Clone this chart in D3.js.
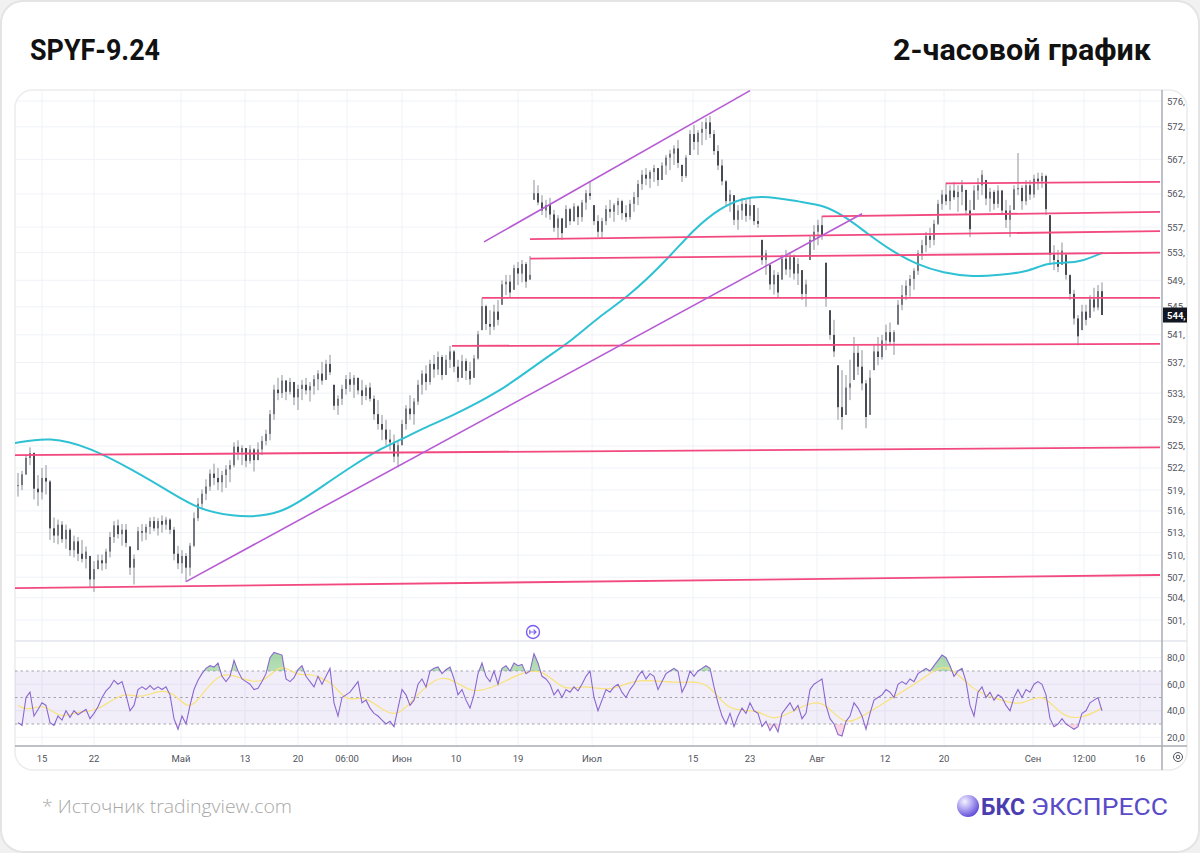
<!DOCTYPE html>
<html>
<head>
<meta charset="utf-8">
<script src="https://cdn.jsdelivr.net/npm/d3@7"></script>
<style>
  html, body { margin: 0; padding: 0; background: #f1f1f1; }
  svg { display: block; }
</style>
</head>
<body>
<svg id="chart" width="1200" height="853"></svg>
<script>
// 2h bars (bar index 0..271)
const highs = [
  521.7, 522, 524.2, 525.3, 524.6, 521.4, 522.4, 522.8, 520.7, 515.5,
  515.2, 515, 514.5, 514, 513, 512.8, 512.4, 511.5, 510.2, 509.5,
  510.4, 510.4, 511.2, 513.5, 515, 515.2, 514.6, 514.6, 511.5, 510.4,
  514.2, 514.6, 514.6, 515.5, 515.6, 515.4, 515.8, 515.6, 515.4, 514.2,
  511.6, 511, 510.6, 512, 516.2, 518.2, 519.4, 520.8, 522.2, 523,
  522.4, 522, 522.8, 523.5, 526, 526.3, 525.6, 525.2, 525.6, 525.2,
  526, 526.9, 527.8, 530.6, 534.2, 535.2, 535.6, 534.9, 535.2, 534.6,
  534.2, 534.9, 535.2, 534.6, 535.6, 536.3, 537.5, 537.8, 538.5, 534.2,
  532.7, 534.2, 535.6, 536, 535.6, 535.2, 534.9, 534.2, 534.5, 532.7,
  532, 529.9, 529.2, 527.8, 527.1, 526.3, 529.2, 531.3, 532.7, 532.3,
  534.9, 536.3, 537, 537.8, 538.5, 539, 538.5, 538.5, 539.8, 539.2,
  537.8, 538.5, 538, 537.5, 538.5, 542, 546.8, 545.8, 545, 545.8,
  546.5, 549.4, 550.2, 550.2, 551.7, 552.1, 552.4, 552.1, 553, 564.4,
  563.6, 562.1, 561.4, 561.7, 559.9, 559.1, 558.7, 560.6, 560.2, 560.9,
  560.6, 561.4, 562.9, 564.1, 560.6, 559.1, 558.7, 560.6, 561.4, 560.9,
  561.7, 561.4, 560.6, 561.4, 562.6, 564.4, 565.9, 566.2, 565.9, 566.7,
  566.2, 567.1, 568.2, 569, 569.7, 570.5, 566.7, 568.2, 572, 572.8,
  572, 573.3, 573.9, 574.2, 572, 569.7, 567.5, 564.4, 562.9, 562.1,
  560.6, 561.7, 561.4, 561.7, 560.6, 560.2, 555.4, 553.9, 551.7, 550.9,
  550.6, 553.2, 553.9, 553.6, 553.2, 552.7, 550.9, 549.5, 556.1, 557.6,
  558.4, 559, 552, 545, 543.6, 537, 536.3, 535.6, 537.8, 541.1,
  539.9, 539.2, 534.9, 536.3, 539.9, 541.1, 541.4, 542.9, 543.2, 542.1,
  546.5, 548.7, 549.4, 550.2, 551.2, 553.9, 555.4, 556.6, 557.2, 558.4,
  561.4, 562.9, 564, 563.6, 564.1, 563.6, 564.4, 562.9, 561.4, 563.6,
  564.7, 565.9, 564.4, 563.2, 562.9, 563.6, 562.9, 561.4, 560.6, 563.6,
  568.5, 563.6, 564.4, 564.4, 565.2, 565.5, 565.5, 565.2, 559.1, 554.6,
  553.9, 555, 553.2, 550.2, 548, 544.3, 545.8, 545.8, 547.2, 548.3,
  548.7, 549.1
];
const lows = [
  518.4, 519.3, 521.4, 522.8, 518, 517.1, 518, 518.7, 512.4, 512,
  511.8, 512, 511.2, 510.2, 510, 509.5, 509.3, 508.5, 506, 505.3,
  508.4, 508.2, 508.4, 510, 512, 512.6, 511.6, 511.4, 507.6, 506.3,
  511, 512.2, 512.4, 513.2, 513.6, 513, 513.4, 513.8, 513.2, 509.6,
  508.4, 507.8, 506.7, 507.5, 511.4, 515, 516.6, 517.9, 519.2, 520,
  519.3, 519, 519.6, 520.4, 522.5, 523.5, 522.8, 522.5, 523, 521.9,
  523.5, 524.2, 525.6, 526.3, 529.2, 532, 532.3, 532, 532.8, 531.3,
  530.6, 532, 532.8, 531.8, 532.8, 533.4, 534.2, 534.9, 535.6, 530.6,
  529.9, 531.3, 532.8, 533.2, 532.3, 532.8, 531.3, 532, 531.8, 529.2,
  527.8, 526.3, 525.6, 524.9, 523.2, 522.5, 525.6, 527.8, 529.2, 528.5,
  531.3, 532.8, 533.4, 534.2, 535.2, 535.6, 534.9, 535.6, 536.6, 536,
  534.6, 535.2, 534.9, 534.2, 535.2, 537.8, 542.1, 542.1, 541.4, 542.1,
  542.8, 545.8, 547.2, 546.8, 548, 548.7, 549.1, 548.3, 549.5, 561.4,
  560.6, 559.1, 558.7, 558.4, 556.6, 555.7, 555.4, 557.2, 557.6, 558.1,
  557.6, 558.1, 559.9, 561.4, 557.6, 555.8, 555.7, 557.6, 558.7, 558.1,
  559.1, 558.4, 558.1, 558.4, 559.6, 560.6, 562.9, 563.6, 563.2, 564.1,
  563.5, 564.4, 565.2, 565.9, 566.7, 566.2, 564.1, 564.7, 568.2, 569,
  568.2, 569.7, 570.5, 570.8, 568.2, 565.9, 563.6, 560.6, 559.6, 557.6,
  556.9, 558.4, 558.1, 558.4, 557.6, 557.2, 551.7, 550.2, 548, 547.3,
  546.8, 549.5, 550.2, 549.8, 549.5, 548.7, 546.5, 545.5, 552.4, 553.9,
  554.6, 555.4, 545.5, 540.7, 538.2, 529.2, 527.8, 529.9, 532, 534.9,
  535.6, 533.4, 528, 529.9, 536.3, 537, 537.8, 539.2, 539.9, 538.5,
  542.9, 545, 546.5, 547, 548, 550.2, 552.4, 553.6, 554.2, 554.6,
  557.6, 559.9, 560.6, 559.9, 561.4, 559.6, 560.6, 559.1, 555.8, 559.9,
  561.4, 562.1, 560.6, 559.6, 559.9, 560.2, 559.1, 557.2, 555.8, 559.9,
  562.1, 559.9, 560.6, 561.4, 561.7, 562.9, 563.2, 559.1, 551.7, 550.9,
  550.6, 551.7, 549.5, 546.5, 542.9, 539.9, 542.1, 542.8, 543.9, 544.8,
  545, 544.3
];
const closes = [
  520, 521.5, 523.8, 524.5, 519.5, 519, 521, 520.5, 514, 513,
  514.5, 512.5, 513.8, 511, 512.2, 510.5, 509.8, 510.8, 507, 508.4,
  509.6, 509.2, 510.8, 512.8, 514.4, 513.2, 513.8, 512, 508.6, 509.8,
  513.6, 513.4, 514.2, 515, 514, 515, 514.5, 515.2, 513.8, 510.5,
  509.2, 510.2, 508.6, 511.6, 515.4, 517.4, 518.8, 519.8, 521.6, 521,
  520.4, 521.4, 522.2, 522.8, 525.4, 524.6, 525.2, 523.4, 525, 523.5,
  525, 526.2, 527.2, 530, 533.5, 533, 534.8, 533.2, 534.6, 532.4,
  533.6, 534.2, 533.4, 534, 535, 535.8, 534.8, 537.2, 536, 531.2,
  532.2, 533.6, 535, 534.2, 535.2, 533.4, 532.6, 533.8, 532.2, 530,
  528.6, 527.8, 526.4, 526, 524, 525.6, 528.6, 530.8, 530, 531.8,
  534.2, 535.8, 534.6, 537.2, 536.4, 538.2, 535.6, 537.8, 539, 536.8,
  535.2, 537.6, 536.2, 535, 538, 541.5, 545.6, 543, 542.6, 544.8,
  543.6, 548.8, 549.2, 547.6, 551.2, 550.4, 551.8, 549.2, 550.2, 562.4,
  561, 559.8, 560.6, 559.2, 557.2, 558.6, 556.4, 560, 558.2, 560.4,
  558.8, 561, 562.4, 562, 558.2, 556.6, 558.2, 560, 559.6, 560.6,
  561.2, 559.4, 558.8, 560.8, 561.8, 563.8, 565.2, 564.6, 565.6, 566.2,
  564.4, 566.6, 567.8, 568.4, 569.2, 567, 565, 567.8, 571.4, 570.2,
  571.6, 572.2, 573.2, 571.4, 568.8, 566.6, 564.2, 561.2, 562.2, 558.4,
  559.8, 560.8, 559, 560.6, 558.2, 557.8, 552.4, 553.4, 548.8, 550.2,
  547.6, 552.6, 551, 552.8, 550.4, 551.8, 547.4, 548.8, 555.4, 556.6,
  557.6, 556, 546.8, 541.4, 539, 531, 529.6, 533.8, 534.4, 538.8,
  536.8, 534.4, 529.6, 535.2, 539, 538.2, 540.6, 541.8, 540.4, 541.8,
  545.8, 547.2, 548.6, 549.6, 550.8, 553.4, 554.6, 556, 555.4, 557.8,
  560.8, 562.2, 561.2, 562.8, 561.8, 562.6, 563.6, 559.8, 557, 562.8,
  563.6, 565.2, 561.6, 562.6, 560.8, 562.8, 559.8, 558.4, 559.8, 563,
  563.2, 561.2, 563.6, 562.2, 564.6, 564.2, 565, 560, 553.2, 552.4,
  551.4, 553.8, 550.2, 547.4, 543.8, 541.2, 544.8, 543.6, 546.6, 545.4,
  547.8, 544.3
];

// RSI(14) per bar and its moving average (sampled)
const rsi = [
  31, 29, 50, 54, 36, 41, 46, 44, 31, 29,
  36, 33, 40, 35, 40, 37, 39, 41, 34, 38,
  43, 50, 55, 58, 63, 60, 62, 52, 40, 44,
  56, 58, 56, 59, 56, 58, 56, 58, 52, 34,
  26, 36, 30, 44, 56, 63, 68, 72, 74, 73,
  76, 66, 62, 66, 78, 70, 64, 62, 60, 56,
  57, 62, 68, 80, 84, 83, 82, 64, 62, 65,
  71, 74, 66, 62, 58, 66, 60, 66, 72, 46,
  36, 50, 52, 54, 58, 62, 46, 48, 42, 38,
  36, 33, 30, 32, 28, 42, 56, 52, 44, 48,
  60, 64, 58, 70, 72, 73, 68, 71, 73, 64,
  52, 56, 48, 42, 52, 68, 76, 66, 62, 70,
  60, 72, 74, 70, 76, 74, 75, 68, 70, 83,
  76, 66, 64, 60, 52, 56, 50, 56, 54, 58,
  55, 60, 66, 70, 50, 40, 48, 56, 54, 58,
  60, 54, 50, 56, 60, 66, 70, 64, 68, 66,
  56, 62, 68, 70, 72, 70, 54, 60, 70, 66,
  70, 72, 74, 72, 58, 46, 36, 30, 38, 28,
  36, 42, 38, 46, 40, 38, 28, 32, 25, 30,
  24, 38, 42, 46, 40, 44, 34, 38, 56, 60,
  62, 64, 44, 34, 30, 22, 21, 32, 36, 46,
  42, 36, 26, 38, 48, 50, 52, 56, 54, 50,
  60, 62, 60, 64, 62, 68, 70, 72, 70, 74,
  78, 82, 80, 74, 66, 70, 72, 62, 44, 36,
  54, 58, 50, 54, 48, 52, 50, 44, 40, 50,
  56, 50, 56, 54, 60, 62, 60, 52, 34, 28,
  30, 34, 30, 28, 26, 28, 38, 40, 46, 48,
  50, 40
];
const rsiMaIdx = [0, 2.25, 6.25, 9.25, 11.25, 15.5, 19.75, 26.25, 30.5, 34.75, 38.75, 42.5, 45.5, 50.5, 55.5, 61.25, 65.5, 69.75, 73, 75.5, 78.75, 82.25, 86.25, 90.5, 95, 100.5, 106.75, 113, 119.25, 126.5, 131.5, 136.5, 141.5, 147.75, 154, 161.5, 166.5, 172.5, 177.5, 185, 188.75, 195, 201.25, 206.25, 211.25, 218.75, 227.25, 232.25, 238.5, 244.75, 251, 256, 261, 266, 271];
const rsiMaVal = [44, 40, 45, 38, 35, 40, 39, 55, 49, 55, 55, 40, 50, 70, 65, 59, 77, 66, 68, 65, 61, 46, 52, 42, 34, 55, 70, 52, 58, 70, 71, 54, 60, 54, 64, 62, 61, 63, 38, 42, 31, 42, 50, 28, 36, 50, 66, 78, 55, 49, 43, 55, 35, 34, 42];

// 200-period moving average of price (sampled)
const smaIdx = [-0.75, 8, 18, 28.75, 37.25, 45.5, 53.75, 60.5, 67.25, 74.75, 83, 91.25, 95.5, 100.5, 108, 120.5, 130.5, 138.75, 145.5, 152.25, 162.25, 168.75, 175.5, 181.25, 187.25, 195.5, 201.25, 206.25, 212.25, 218, 224.75, 231.25, 238.75, 245.5, 252.25, 257.25, 262.25, 265.5, 271.25];
const smaVal = [525.9, 526.8, 525.3, 522.1, 519.3, 516.5, 515.7, 515.6, 516.5, 519.3, 522.5, 525.3, 526.3, 527.8, 529.6, 533.2, 537.5, 540.7, 544.2, 546.8, 552.4, 556.9, 560.2, 561.7, 562, 561.1, 560.6, 559.1, 556.4, 553.9, 551.7, 550.5, 549.9, 550.2, 550.6, 552, 552, 552.1, 553.5];

// drawn levels [startIdx, startPrice, endIdx, endPrice]
const levelLines = [
  [-0.75, 505.8, 285.5, 507.6],
  [-0.75, 524.2, 285.5, 525.3],
  [108.5, 539.8, 285.5, 540.1],
  [116, 546.8, 285.5, 546.8],
  [128, 552.6, 285.5, 553.5],
  [128, 555.5, 285.5, 556.7],
  [201, 558.9, 285.5, 559.6],
  [232, 563.9, 285.5, 564.1]
];
const trendLines = [
  [42, 506.7, 211, 559.3],
  [116.5, 555.1, 183, 578.1]
];

const priceTicks = [501.5, 504.5, 507.3, 510.3, 513.4, 516.4, 519.3, 522.4, 525.5, 529.3, 533.0, 537.4, 541.4, 545.5, 549.4, 553.5, 557.3, 562.3, 567.5, 572.5, 576.5];
const rsiTicks = [80, 60, 40, 20];
const rsiLevels = [70, 50, 30];
const timeTickIdx = [6, 19, 40.75, 56.75, 70, 82.25, 96, 109.5, 125, 143.5, 168.75, 183, 199.75, 216.75, 231.5, 253.75, 266.5, 280.5];
const timeTickLabels = ['15', '22', 'Май', '13', '20', '06:00', 'Июн', '10', '19', 'Июл', '15', '23', 'Авг', '12', '20', 'Сен', '12:00', '16'];
const eventIdx = [128.75];
const lastPrice = 544.3;

// layout
const frame = { left: 15, top: 90, right: 1187, bottom: 770 };
const axisX = 1162;
const paneBottom = 641;
const rsiTop = 642, rsiBottom = 746;

const svg = d3.select('#chart');

svg.append('rect')
  .attr('x', 1).attr('y', 1).attr('width', 1198).attr('height', 851)
  .attr('rx', 22).attr('fill', '#fff').attr('stroke', '#e4e4e4').attr('stroke-width', 2);

// titles, squeezed to the width they take in the picture
svg.append('text')
  .attr('x', 30).attr('y', 60)
  .attr('font-family', 'Roboto').attr('font-weight', 700).attr('font-size', 30)
  .attr('textLength', 130).attr('lengthAdjust', 'spacingAndGlyphs')
  .attr('fill', '#111')
  .text('SPYF-9.24');

svg.append('text')
  .attr('x', 893).attr('y', 60)
  .attr('font-family', 'Roboto').attr('font-weight', 700).attr('font-size', 30)
  .attr('textLength', 258).attr('lengthAdjust', 'spacingAndGlyphs')
  .attr('fill', '#111')
  .text('2-часовой график');

svg.append('rect')
  .attr('x', frame.left).attr('y', frame.top)
  .attr('width', frame.right - frame.left).attr('height', frame.bottom - frame.top)
  .attr('rx', 18).attr('fill', '#fff').attr('stroke', '#ececec').attr('stroke-width', 1.5);

const defs = svg.append('defs');
defs.append('clipPath').attr('id', 'frameClip')
  .append('rect')
  .attr('x', frame.left).attr('y', frame.top)
  .attr('width', frame.right - frame.left).attr('height', frame.bottom - frame.top)
  .attr('rx', 18);
defs.append('clipPath').attr('id', 'priceClip')
  .append('rect')
  .attr('x', frame.left).attr('y', frame.top)
  .attr('width', axisX - frame.left).attr('height', paneBottom - frame.top);
defs.append('clipPath').attr('id', 'obClip')
  .append('rect').attr('x', frame.left).attr('y', rsiTop).attr('width', axisX - frame.left).attr('height', 671 - rsiTop);
defs.append('clipPath').attr('id', 'osClip')
  .append('rect').attr('x', frame.left).attr('y', 724).attr('width', axisX - frame.left).attr('height', rsiBottom - 724);

const grad = defs.append('linearGradient').attr('id', 'obGrad').attr('x1', 0).attr('x2', 0).attr('y1', 0).attr('y2', 1);
grad.append('stop').attr('offset', '0%').attr('stop-color', '#4caf50').attr('stop-opacity', 0.5);
grad.append('stop').attr('offset', '100%').attr('stop-color', '#4caf50').attr('stop-opacity', 0.06);

const logoGrad = defs.append('radialGradient').attr('id', 'logoGrad')
  .attr('cx', '35%').attr('cy', '30%').attr('r', '75%');
logoGrad.append('stop').attr('offset', '0%').attr('stop-color', '#f4f2ff');
logoGrad.append('stop').attr('offset', '45%').attr('stop-color', '#b3a8f2');
logoGrad.append('stop').attr('offset', '100%').attr('stop-color', '#5b47d6');

// scales
const x = d3.scaleLinear().domain([0, 271]).range([18, 1102]);
const y = d3.scaleLog().domain([501.5, 576.5]).range([620, 101]);
const yR = d3.scaleLinear().domain([30, 70]).range([724, 671]);

const root = svg.append('g').attr('clip-path', 'url(#frameClip)');

// grid
root.append('g')
  .selectAll('line')
  .data(timeTickIdx)
  .enter()
  .append('line')
    .attr('x1', d => x(d)).attr('x2', d => x(d))
    .attr('y1', frame.top).attr('y2', rsiBottom)
    .attr('stroke', '#f0f2f7').attr('stroke-width', 1);

root.append('g')
  .selectAll('line')
  .data(priceTicks)
  .enter()
  .append('line')
    .attr('x1', frame.left).attr('x2', axisX)
    .attr('y1', d => y(d)).attr('y2', d => y(d))
    .attr('stroke', '#f0f2f7').attr('stroke-width', 1);

root.append('g')
  .selectAll('line')
  .data(rsiTicks)
  .enter()
  .append('line')
    .attr('x1', frame.left).attr('x2', axisX)
    .attr('y1', d => yR(d)).attr('y2', d => yR(d))
    .attr('stroke', '#f0f2f7').attr('stroke-width', 1);

// price pane
const pane = root.append('g').attr('clip-path', 'url(#priceClip)');

const bars = closes.map((c, i) => {
  const prev = i > 0 ? closes[i - 1] : c;
  return { i, h: highs[i], l: lows[i], c, o: Math.max(lows[i], Math.min(highs[i], prev)) };
});

pane.append('g')
  .selectAll('line')
  .data(bars)
  .enter()
  .append('line')
    .attr('x1', d => x(d.i)).attr('x2', d => x(d.i))
    .attr('y1', d => y(d.h)).attr('y2', d => y(d.l))
    .attr('stroke', '#8e919a').attr('stroke-width', 1);

pane.append('g')
  .selectAll('rect')
  .data(bars)
  .enter()
  .append('rect')
    .attr('x', d => x(d.i) - 0.9)
    .attr('width', 1.8)
    .attr('y', d => Math.min(y(d.o), y(d.c)))
    .attr('height', d => Math.max(1, Math.abs(y(d.o) - y(d.c))))
    .attr('fill', d => d.c >= d.o ? '#6b6e77' : '#3a3c44');

// moving average
const smaLine = d3.line()
  .x((d, k) => x(smaIdx[k]))
  .y(d => y(d))
  .curve(d3.curveBasis);

pane.append('path')
  .attr('d', smaLine(smaVal))
  .attr('fill', 'none').attr('stroke', '#2ec1d4').attr('stroke-width', 2);

// drawings
pane.append('g')
  .selectAll('line')
  .data(levelLines)
  .enter()
  .append('line')
    .attr('x1', d => x(d[0])).attr('y1', d => y(d[1]))
    .attr('x2', d => x(d[2])).attr('y2', d => y(d[3]))
    .attr('stroke', '#f2497f').attr('stroke-width', 1.8);

pane.append('g')
  .selectAll('line')
  .data(trendLines)
  .enter()
  .append('line')
    .attr('x1', d => x(d[0])).attr('y1', d => y(d[1]))
    .attr('x2', d => x(d[2])).attr('y2', d => y(d[3]))
    .attr('stroke', '#b65bd4').attr('stroke-width', 1.6);

// pane separators and axes
root.append('line')
  .attr('x1', frame.left).attr('x2', frame.right)
  .attr('y1', paneBottom).attr('y2', paneBottom)
  .attr('stroke', '#e3e5ec').attr('stroke-width', 1.5);

root.append('line')
  .attr('x1', frame.left).attr('x2', frame.right)
  .attr('y1', rsiBottom).attr('y2', rsiBottom)
  .attr('stroke', '#a9acb5').attr('stroke-width', 1.5);

root.append('line')
  .attr('x1', axisX).attr('x2', axisX)
  .attr('y1', frame.top).attr('y2', frame.bottom)
  .attr('stroke', '#a9acb5').attr('stroke-width', 1.5);

// event marker
const ev = root.append('g')
  .selectAll('g')
  .data(eventIdx)
  .enter()
  .append('g')
    .attr('transform', d => `translate(${x(d)},632)`);
ev.append('circle').attr('r', 6.5).attr('fill', '#fff').attr('stroke', '#7a5cf5').attr('stroke-width', 1.4);
ev.append('path').attr('d', 'M-3.2,0 H3 M0.6,-2.4 L3,0 L0.6,2.4 M-3.2,-2.2 V2.2')
  .attr('fill', 'none').attr('stroke', '#7a5cf5').attr('stroke-width', 1.2);

// RSI pane
const rsiG = root.append('g');
rsiG.append('rect')
  .attr('x', frame.left).attr('width', axisX - frame.left)
  .attr('y', yR(70)).attr('height', yR(30) - yR(70))
  .attr('fill', '#7e57c2').attr('fill-opacity', 0.1);

rsiG.append('g')
  .selectAll('line')
  .data(rsiLevels)
  .enter()
  .append('line')
    .attr('x1', frame.left).attr('x2', axisX)
    .attr('y1', d => yR(d)).attr('y2', d => yR(d))
    .attr('stroke', '#a3a6af').attr('stroke-width', 1).attr('stroke-dasharray', '2.5,3');

const obArea = d3.area().x((d, i) => x(i)).y0(yR(70)).y1(d => yR(d));
const osArea = d3.area().x((d, i) => x(i)).y0(yR(30)).y1(d => yR(d));

rsiG.append('path').attr('d', obArea(rsi)).attr('fill', 'url(#obGrad)').attr('clip-path', 'url(#obClip)');
rsiG.append('path').attr('d', osArea(rsi)).attr('fill', '#f27ea0').attr('fill-opacity', 0.3).attr('clip-path', 'url(#osClip)');

const rsiMaLine = d3.line()
  .x((d, k) => x(rsiMaIdx[k]))
  .y(d => yR(d))
  .curve(d3.curveBasis);
rsiG.append('path')
  .attr('d', rsiMaLine(rsiMaVal))
  .attr('fill', 'none').attr('stroke', '#f9e27a').attr('stroke-width', 1.2);

rsiG.append('path')
  .attr('d', d3.line().x((d, i) => x(i)).y(d => yR(d))(rsi))
  .attr('fill', 'none').attr('stroke', '#8a68d0').attr('stroke-width', 1.1);

// axis labels
const axisFont = 'Roboto';
root.append('g')
  .selectAll('text')
  .data(priceTicks)
  .enter()
  .append('text')
    .attr('x', axisX + 5).attr('y', d => y(d))
    .attr('dominant-baseline', 'central')
    .attr('font-family', axisFont).attr('font-size', 9.5).attr('fill', '#50535c')
    .text(d => `${Math.floor(d)},`);

root.append('g')
  .selectAll('text')
  .data(rsiTicks)
  .enter()
  .append('text')
    .attr('x', axisX + 5).attr('y', d => yR(d))
    .attr('dominant-baseline', 'central')
    .attr('font-family', axisFont).attr('font-size', 9.5).attr('fill', '#50535c')
    .text(d => `${d},0`);

root.append('g')
  .selectAll('text')
  .data(timeTickIdx)
  .enter()
  .append('text')
    .attr('x', d => x(d)).attr('y', 758)
    .attr('text-anchor', 'middle').attr('dominant-baseline', 'central')
    .attr('font-family', axisFont).attr('font-size', 9.5).attr('fill', '#50535c')
    .text((d, k) => timeTickLabels[k]);

// last price label
const lp = root.append('g').attr('transform', `translate(${axisX},${y(lastPrice)})`);
lp.append('rect').attr('x', 1).attr('y', -7.5).attr('width', 26).attr('height', 15).attr('fill', '#131722');
lp.append('text').attr('x', 5).attr('y', 0).attr('dominant-baseline', 'central')
  .attr('font-family', axisFont).attr('font-size', 9.5).attr('font-weight', 700).attr('fill', '#fff')
  .text(`${Math.floor(lastPrice)},`);

// settings glyph at the corner of the axes
root.append('circle').attr('cx', 1178).attr('cy', 757).attr('r', 4.5)
  .attr('fill', 'none').attr('stroke', '#50535c').attr('stroke-width', 1);
root.append('circle').attr('cx', 1178).attr('cy', 757).attr('r', 1.8)
  .attr('fill', 'none').attr('stroke', '#50535c').attr('stroke-width', 1);

// footer
svg.append('text')
  .attr('x', 42).attr('y', 813)
  .attr('font-family', 'Open Sans').attr('font-weight', 300).attr('font-size', 19)
  .attr('textLength', 250).attr('lengthAdjust', 'spacingAndGlyphs')
  .attr('fill', '#a8a8a8')
  .text('*  Источник tradingview.com');

svg.append('circle').attr('cx', 968).attr('cy', 806).attr('r', 11).attr('fill', 'url(#logoGrad)');
svg.append('text')
  .attr('x', 981).attr('y', 815)
  .attr('font-family', 'Roboto').attr('font-weight', 700).attr('font-size', 24)
  .attr('textLength', 44).attr('lengthAdjust', 'spacingAndGlyphs')
  .attr('fill', '#4b3cb0')
  .text('БКС');
svg.append('text')
  .attr('x', 1031).attr('y', 815)
  .attr('font-family', 'Roboto').attr('font-weight', 400).attr('font-size', 24)
  .attr('textLength', 137).attr('lengthAdjust', 'spacingAndGlyphs')
  .attr('fill', '#5a4bc8')
  .text('ЭКСПРЕСС');
</script>
</body>
</html>
